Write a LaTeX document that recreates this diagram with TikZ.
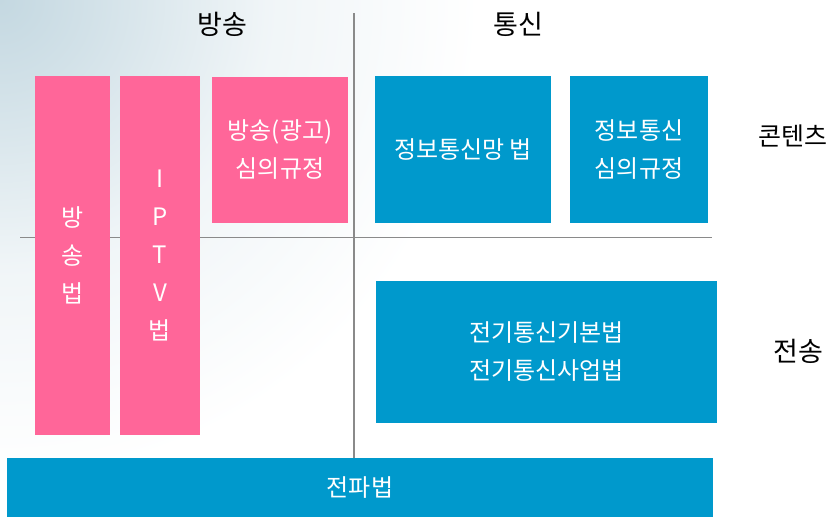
\documentclass[tikz,border=0pt]{standalone}
\usepackage{fontspec}
\setmainfont{Noto Sans CJK KR}
\usepackage{xcolor}
\usepackage{tikz}

\definecolor{lawpink}{HTML}{FF6699}
\definecolor{lawblue}{HTML}{0099CC}
\definecolor{axisgray}{HTML}{8A8A8A}
\definecolor{bgtint}{HTML}{C4D8E1}

\pgfdeclareradialshading{bgfade}{\pgfpoint{0bp}{0bp}}{%
    color(0bp)=(bgtint); color(5bp)=(bgtint!75!white);
    color(14bp)=(bgtint!25!white); color(25bp)=(white); color(50bp)=(white)}

\begin{document}
\begin{tikzpicture}[x=1pt, y=-1pt,
    pinkbox/.style={rectangle, fill=lawpink, text=white, align=center, inner sep=0pt, font=\fontsize{24}{38}\selectfont},
    bluebox/.style={rectangle, fill=lawblue, text=white, align=center, inner sep=0pt, font=\fontsize{24}{38}\selectfont},
    heading/.style={text=black, font=\fontsize{27}{30}\selectfont},
    axis/.style={draw=axisgray, line width=1.2pt}
]
    \useasboundingbox (0,0) rectangle (832,517);

    % Background tint
    \begin{scope}
        \clip (0,0) rectangle (832,517);
        \fill[white] (0,0) rectangle (832,517);
        \shade[shading=bgfade] (0,0) circle (480pt);
    \end{scope}

    % Axes
    \coordinate (vtop) at (354,13);
    \coordinate (vbot) at (354,458);
    \coordinate (hleft) at (20,237.5);
    \coordinate (hright) at (712,237.5);
    \draw[axis] (vtop) -- (vbot);
    \draw[axis] (hleft) -- (hright);

    % Headings
    \node[heading] (broadcast) at (222,24) {방송};
    \node[heading] (telecom) at (518,24) {통신};
    \node[heading, font=\fontsize{25}{30}\selectfont] (content) at (793,136) {콘텐츠};
    \node[heading] (transmit) at (798,351) {전송};

    % Broadcast side
    \node[pinkbox, minimum width=75, minimum height=359] (broadlaw) at (72.5,255.5) {방\\송\\법};
    \node[pinkbox, minimum width=80, minimum height=359] (iptvlaw) at (160,255.5) {I\\P\\T\\V\\법};
    \node[pinkbox, minimum width=136, minimum height=146] (adrule) at (280,150) {방송(광고)\\심의규정};

    % Telecom side
    \node[bluebox, minimum width=176, minimum height=147] (netlaw) at (463,149.5) {정보통신망 법};
    \node[bluebox, minimum width=138, minimum height=147] (icrule) at (639,149.5) {정보통신\\심의규정};
    \node[bluebox, minimum width=341, minimum height=142] (telelaw) at (546.5,352) {전기통신기본법\\전기통신사업법};

    % Bottom bar
    \node[bluebox, minimum width=706, minimum height=59] (radiolaw) at (360,487.5) {전파법};
\end{tikzpicture}
\end{document}
